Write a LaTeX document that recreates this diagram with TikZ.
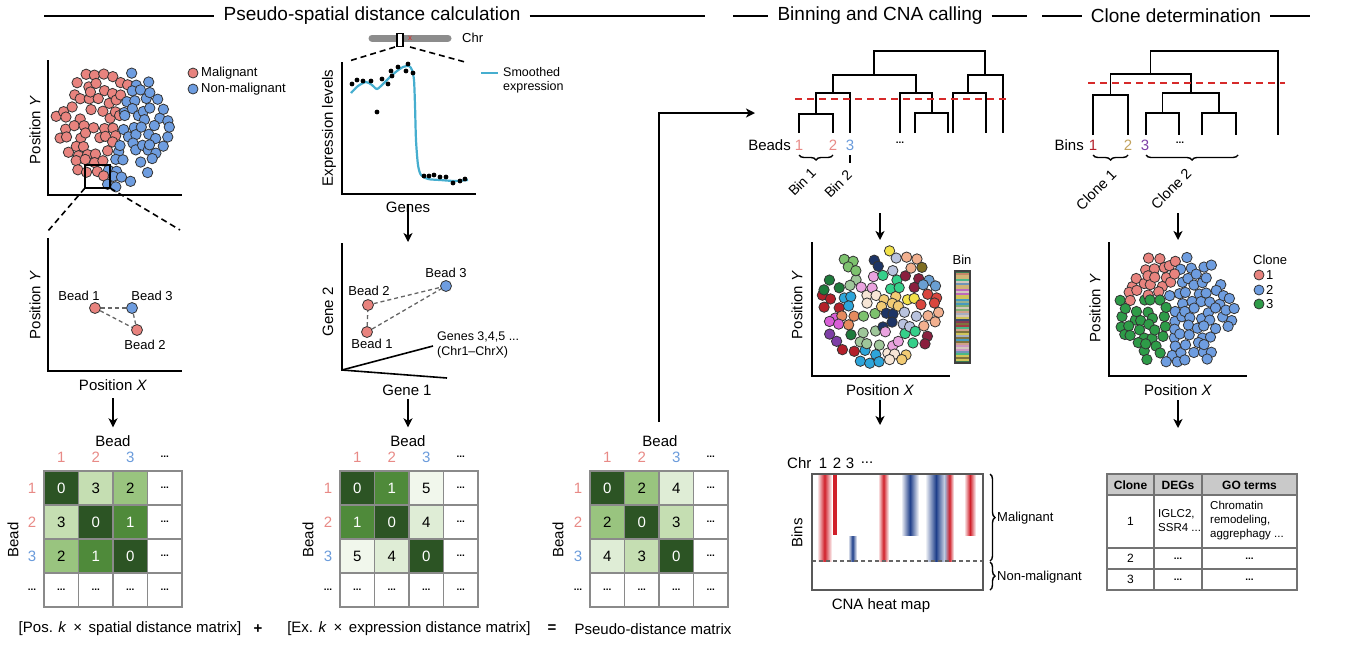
\documentclass[tikz,border=0pt]{standalone}
\usepackage{fontspec}
\setmainfont{Liberation Sans}
\usetikzlibrary{arrows.meta,decorations.pathreplacing}
\newcommand\fs[2]{\fontsize{#1}{#2}\selectfont}
\newcommand\myell{\textbf{\fs{10}{12}...}}
\definecolor{mred}{HTML}{E8837E}
\definecolor{mblue}{HTML}{6E9DE0}
\definecolor{mgreen}{HTML}{2E9B48}
\definecolor{numred}{HTML}{E88A86}
\definecolor{numblue}{HTML}{6A9BDB}
\definecolor{curvec}{HTML}{46AECF}
\definecolor{dashred}{HTML}{D62A2A}
\definecolor{gridgray}{HTML}{8A8A8A}
\definecolor{m0}{HTML}{2C5424}
\definecolor{m1}{HTML}{4F8A3A}
\definecolor{m2}{HTML}{99C47F}
\definecolor{m3}{HTML}{C5DEB2}
\definecolor{m4}{HTML}{DFEDD6}
\definecolor{m5}{HTML}{F1F7EC}
\definecolor{cnared}{HTML}{D0202A}
\definecolor{cnablue}{HTML}{1F3F8A}
\definecolor{tblgray}{HTML}{C9C9C9}
\definecolor{cl1}{HTML}{E8837E}
\definecolor{cl2}{HTML}{6E9DE0}
\definecolor{cl3}{HTML}{2E9B48}
\definecolor{bin0}{HTML}{B3202A}
\definecolor{bin1}{HTML}{F2CB74}
\definecolor{bin2}{HTML}{7E3FA6}
\definecolor{bin3}{HTML}{EAA3DF}
\definecolor{bin4}{HTML}{6A9FD2}
\definecolor{bin5}{HTML}{7DC26E}
\definecolor{bin6}{HTML}{F2B08F}
\definecolor{bin7}{HTML}{2DA5DA}
\definecolor{bin8}{HTML}{F2E24A}
\definecolor{bin9}{HTML}{1E7B3C}
\definecolor{bin10}{HTML}{35D08A}
\definecolor{bin11}{HTML}{D85FD6}
\definecolor{bin12}{HTML}{1D3465}
\definecolor{bin13}{HTML}{7E6E22}
\definecolor{bin14}{HTML}{F7E6D6}
\definecolor{bin15}{HTML}{D9463E}
\definecolor{bin16}{HTML}{9FC79A}
\definecolor{bin17}{HTML}{8A1F3E}
\definecolor{bin18}{HTML}{E58A5E}
\definecolor{bin19}{HTML}{B9C3DE}
\begin{document}
\begin{tikzpicture}[x=1pt,y=-1pt,
  axisl/.style={line width=1.6pt},
  arr/.style={line width=1.6pt,-{Stealth[length=9pt,width=9pt,inset=2.5pt]}},
  tree/.style={line width=1.5pt},
  cut/.style={draw=dashred,line width=2.2pt,dash pattern=on 7pt off 5pt},
  bead/.style={draw=black!80,line width=0.8pt},
  beadn/.style={circle,draw=black!80,line width=0.8pt,minimum size=11pt,inner sep=0pt},
  txt/.style={inner sep=0pt,font=\fs{15}{18}},
  small/.style={inner sep=0pt,font=\fs{13}{15}},
  ttl/.style={inner sep=0pt,font=\fs{19}{22}},
  hdr/.style={line width=1.5pt},
  cell/.style={draw=gridgray,line width=1.5pt,minimum width=34.5pt,minimum height=34pt,inner sep=0pt,font=\fs{15}{18}},
  gline/.style={draw=black!60,line width=1.3pt,dash pattern=on 4pt off 3pt},
  brc/.style={line width=1.4pt,decorate,decoration={brace,amplitude=5pt}},
]
\useasboundingbox (0,0) rectangle (1353,657);

% ---------- headers ----------
\node[ttl] (t1) at (372,16) {Pseudo-spatial distance calculation};
\draw[hdr] (44,16) -- ([xshift=-9pt]t1.west);
\draw[hdr] ([xshift=9pt]t1.east) -- (705,16);
\node[ttl] (t2) at (880,16) {Binning and CNA calling};
\draw[hdr] (733,16) -- ([xshift=-9pt]t2.west);
\draw[hdr] ([xshift=9pt]t2.east) -- (1027,16);
\node[ttl] (t3) at (1176,16) {Clone determination};
\draw[hdr] (1042,16) -- ([xshift=-9pt]t3.west);
\draw[hdr] ([xshift=9pt]t3.east) -- (1310,16);

% ---------- panel 1: spatial scatter (jittered hex grid) ----------
\pgfmathsetseed{3}
\foreach \gx in {-7,...,7}{\foreach \gy in {-8,...,8}{%
  \pgfmathsetmacro\sx{113+\gx*9.8+4.9*mod(abs(\gy),2)+6*(rnd-0.5)}%
  \pgfmathsetmacro\sy{127+\gy*8.6+6*(rnd-0.5)}%
  \pgfmathtruncatemacro\ins{and(((\sx-113)/58)^2+((\sy-127)/60)^2<1, rnd>0.1)}%
  \ifnum\ins=1
  \pgfmathtruncatemacro\cls{(\sx<117-0.25*(\sy-127)+12*(rnd-0.5))?1:2}%
  \filldraw[bead,fill=cl\cls] (\sx,\sy) circle (5.2);
  \fi
}}
\draw[axisl] (48,60) -- (48,195) -- (182,195);
\node[txt,rotate=90] (py1) at (35,130) {Position \textit{Y}};
\draw[line width=1.6pt] (85,165) rectangle (110,188);
\coordinate (zl) at (85,188);
\coordinate (zr) at (110,188);
\coordinate (zl2) at (48,231);
\coordinate (zr2) at (180,230);
\draw[line width=1.6pt,dash pattern=on 6pt off 4pt] (zl) -- (zl2);
\draw[line width=1.6pt,dash pattern=on 6pt off 4pt] (zr) -- (zr2);
\node[beadn,fill=mred,minimum size=10pt] (lgm) at (193,73) {};
\node[small,anchor=west] (lgmt) at (201,73) {Malignant};
\node[beadn,fill=mblue,minimum size=10pt] (lgn) at (193,89) {};
\node[small,anchor=west] (lgnt) at (201,89) {Non-malignant};

% ---------- panel 2: bead positions ----------
\draw[axisl] (48,238) -- (48,371) -- (182,371);
\node[txt,rotate=90] (py2) at (35,305) {Position \textit{Y}};
\node[txt] (px2) at (113,385) {Position \textit{X}};
\node[beadn,fill=mred] (b1) at (95,308) {};
\node[beadn,fill=mblue] (b3) at (132,308) {};
\node[beadn,fill=mred] (b2) at (137,330) {};
\draw[gline] (b1) -- (b3);
\draw[gline] (b1) -- (b2);
\draw[gline] (b3) -- (b2);
\node[small] (b1t) at (79,296) {Bead 1};
\node[small] (b3t) at (152,296) {Bead 3};
\node[small] (b2t) at (145,345) {Bead 2};

% ---------- expression panel ----------
\draw[line width=7pt,color=black!45,line cap=round] (372,38) -- (448,38);
\node[inner sep=0pt,text=dashred,font=\fs{8}{8}] (cen) at (410,38) {x};
\node[draw=black,fill=white,line width=1.3pt,minimum width=6pt,minimum height=13pt,inner sep=0pt] (win) at (400,40) {};
\node[small,anchor=west] (chr) at (462,38) {Chr};
\coordinate (wl) at (395,47);
\coordinate (wr) at (410,47);
\coordinate (wl2) at (349,61);
\coordinate (wr2) at (465,62);
\draw[line width=1.6pt,dash pattern=on 6pt off 4pt] (wl) -- (wl2);
\draw[line width=1.6pt,dash pattern=on 6pt off 4pt] (wr) -- (wr2);
\draw[axisl] (342,62) -- (342,194) -- (476,194);
\draw[curvec,line width=2.2pt,smooth,tension=0.45] plot coordinates {(351,93) (358,86) (366,82) (372,85) (377,89) (383,84) (390,77) (397,71) (403,67) (409,66) (412,70) (414,80) (415,105) (416,140) (418,165) (421,175) (428,179) (440,180) (455,181) (468,180)};
\foreach \dx/\dy in {352/84,357/80,363/81,371/81,377/112,382/79,388/84,391/71,392/76,398/67,406/71,408/64,413/73,424/176,429/176,434/175,440/177,446/177,453/183,460/181,465/179}{
  \fill (\dx,\dy) circle (2.4);
}
\draw[curvec,line width=2.2pt] (481,73) -- (498,73);
\node[small,anchor=west,align=left,font=\fs{12.5}{14}] (smt) at (503,80) {Smoothed\\expression};
\node[txt,rotate=90] (yel) at (329,128) {Expression levels};
\node[txt] (genes) at (408,207) {Genes};

% ---------- gene space ----------
\draw[axisl] (342,243) -- (342,370) -- (447,378);
\draw[axisl] (342,370) -- (433,346);
\node[txt,rotate=90] (g2l) at (328,312) {Gene 2};
\node[txt] (g1l) at (407,390) {Gene 1};
\node[small,anchor=west,align=left,font=\fs{12.5}{15}] (g345) at (437,345) {Genes 3,4,5 ...\\(Chr1--ChrX)};
\node[beadn,fill=mblue] (g3) at (446,286) {};
\node[beadn,fill=mred] (g2) at (368,305) {};
\node[beadn,fill=mred] (g1) at (367,332) {};
\draw[gline] (g2) -- (g3);
\draw[gline] (g1) -- (g3);
\draw[gline] (g1) -- (g2);
\node[small] (g3t) at (446,273) {Bead 3};
\node[small] (g2t) at (369,291) {Bead 2};
\node[small] (g1t) at (372,344) {Bead 1};
\draw[arr] (genes.south) ++(0,-9) coordinate (ga) -- (408,242);

% ---------- matrices ----------
% matrix 1
\node[txt] (ma-head) at (113,441) {Bead};
\node[txt,rotate=90] (ma-bead) at (13,540) {Bead};
\foreach \c/\col/\lab in {1/numred/1,2/numred/2,3/numblue/3,4/black/\myell}{
  \node[txt,text=\col] (ma-c\c) at ({44+(\c-0.5)*34.5},457) {\lab};
  \node[txt,text=\col] (ma-r\c) at (32,{471+(\c-0.5)*34}) {\lab};
}
\foreach \r/\c/\cf/\cv/\ct in {1/1/m0/0/white,1/2/m3/3/black,1/3/m2/2/black,1/4/white/\myell/black,
  2/1/m3/3/black,2/2/m0/0/white,2/3/m1/1/white,2/4/white/\myell/black,
  3/1/m2/2/black,3/2/m1/1/white,3/3/m0/0/white,3/4/white/\myell/black,
  4/1/white/\myell/black,4/2/white/\myell/black,4/3/white/\myell/black,4/4/white/\myell/black}{
  \node[cell,fill=\cf,text=\ct] (ma-\r-\c) at ({44+(\c-0.5)*34.5},{471+(\r-0.5)*34}) {\cv};
}
\draw[arr,shorten >=8pt] (113,398) coordinate (a1s) -- (ma-head);
% matrix 2
\node[txt] (mb-head) at (408,441) {Bead};
\node[txt,rotate=90] (mb-bead) at (308,540) {Bead};
\foreach \c/\col/\lab in {1/numred/1,2/numred/2,3/numblue/3,4/black/\myell}{
  \node[txt,text=\col] (mb-c\c) at ({340+(\c-0.5)*34.5},457) {\lab};
  \node[txt,text=\col] (mb-r\c) at (328,{471+(\c-0.5)*34}) {\lab};
}
\foreach \r/\c/\cf/\cv/\ct in {1/1/m0/0/white,1/2/m1/1/white,1/3/m5/5/black,1/4/white/\myell/black,
  2/1/m1/1/white,2/2/m0/0/white,2/3/m4/4/black,2/4/white/\myell/black,
  3/1/m5/5/black,3/2/m4/4/black,3/3/m0/0/white,3/4/white/\myell/black,
  4/1/white/\myell/black,4/2/white/\myell/black,4/3/white/\myell/black,4/4/white/\myell/black}{
  \node[cell,fill=\cf,text=\ct] (mb-\r-\c) at ({340+(\c-0.5)*34.5},{471+(\r-0.5)*34}) {\cv};
}
\draw[arr,shorten >=8pt] (408,399) coordinate (a2s) -- (mb-head);
% matrix 3
\node[txt] (mc-head) at (660,441) {Bead};
\node[txt,rotate=90] (mc-bead) at (558,540) {Bead};
\foreach \c/\col/\lab in {1/numred/1,2/numred/2,3/numblue/3,4/black/\myell}{
  \node[txt,text=\col] (mc-c\c) at ({590+(\c-0.5)*34.5},457) {\lab};
  \node[txt,text=\col] (mc-r\c) at (578,{471+(\c-0.5)*34}) {\lab};
}
\foreach \r/\c/\cf/\cv/\ct in {1/1/m0/0/white,1/2/m2/2/black,1/3/m4/4/black,1/4/white/\myell/black,
  2/1/m2/2/black,2/2/m0/0/white,2/3/m3/3/black,2/4/white/\myell/black,
  3/1/m4/4/black,3/2/m3/3/black,3/3/m0/0/white,3/4/white/\myell/black,
  4/1/white/\myell/black,4/2/white/\myell/black,4/3/white/\myell/black,4/4/white/\myell/black}{
  \node[cell,fill=\cf,text=\ct] (mc-\r-\c) at ({590+(\c-0.5)*34.5},{471+(\r-0.5)*34}) {\cv};
}
% formula
\node[txt] (f1) at (130,629) {[Pos. \textit{k} \,×\, spatial distance matrix]};
\node[txt] (fplus) at (258,629) {\textbf{+}};
\node[txt] (f2) at (409,629) {[Ex. \textit{k} \,×\, expression distance matrix]};
\node[txt] (feq) at (552,629) {\textbf{=}};
\node[txt] (f3) at (653,629) {Pseudo-distance matrix};

% long arrow
\coordinate (la) at (659,422);
\coordinate (lb) at (755,113);
\draw[arr] (la) |- (lb);

% ---------- binning tree ----------
\draw[tree] (799,133) -- (799,114) -- (833,114) -- (833,133);
\draw[tree] (816,114) -- (816,93) -- (850,93) -- (850,133);
\draw[tree] (915,133) -- (915,113) -- (948,113) -- (948,133);
\draw[tree] (900,133) -- (900,93) -- (932,93) -- (932,113);
\draw[tree] (833,93) -- (833,75) -- (916,75) -- (916,93);
\draw[tree] (953,133) -- (953,93) -- (986,93) -- (986,133);
\draw[tree] (968,93) -- (968,75) -- (1003,75) -- (1003,133);
\draw[tree] (874,75) -- (874,51) -- (985,51) -- (985,75);
\draw[cut] (795,99) -- (1010,99);
\node[txt,anchor=east] (beads) at (791,145) {Beads};
\node[txt,text=numred] (bn1) at (799,145) {1};
\node[txt,text=numred] (bn2) at (833,145) {2};
\node[txt,text=numblue] (bn3) at (850,145) {3};
\node[txt] (bnd) at (900,143) {\myell};
\draw[brc] (833,155) -- (799,155);
\draw[line width=1.4pt] (850,155) -- (850,163);
\node[small,rotate=45,font=\fs{14}{16}] (bin1) at (802,182) {Bin 1};
\node[small,rotate=45,font=\fs{14}{16}] (bin2) at (838,184) {Bin 2};
\draw[arr] (880,213) coordinate (a3s) -- (880,240);

% ---------- bin scatter ----------
\pgfmathsetseed{11}
\foreach \gx in {-7,...,7}{\foreach \gy in {-8,...,8}{%
  \pgfmathsetmacro\sx{880+\gx*10.6+5.3*mod(abs(\gy),2)+6*(rnd-0.5)}%
  \pgfmathsetmacro\sy{306+\gy*9.2+6*(rnd-0.5)}%
  \pgfmathtruncatemacro\ins{and(((\sx-880)/60)^2+((\sy-306)/60)^2<1, rnd>0.12)}%
  \ifnum\ins=1
  \pgfmathtruncatemacro\idx{mod(floor((\sx-800)/20)*7+floor((\sy-238)/18)*11,20)}%
  \filldraw[bead,fill=bin\idx] (\sx,\sy) circle (5.2);
  \fi
}}
\draw[axisl] (812,242) -- (812,376) -- (950,376);
\node[txt,rotate=90] (py3) at (797,305) {Position \textit{Y}};
\node[txt] (px3) at (880,390) {Position \textit{X}};
\pgfmathsetseed{5}
\foreach \k in {0,...,45}{%
  \pgfmathtruncatemacro\idx{floor(20*rnd)}%
  \fill[bin\idx!70!gray] (955,{271+2*\k}) rectangle (970,{273+2*\k});
}
\draw[black!75,line width=1.4pt] (955,271) rectangle (970,363);
\node[small] (binl) at (962,260) {Bin};
\draw[arr] (880,400) coordinate (a4s) -- (880,425);

% ---------- CNA heat map ----------
\shade[left color=white,right color=white,middle color=cnared] (817,474) rectangle (832,561);
\fill[cnared] (833,474) rectangle (837,535);
\shade[left color=white,right color=white,middle color=cnablue] (848,536) rectangle (857,561);
\shade[left color=white,right color=white,middle color=cnared] (878,474) rectangle (889,561);
\shade[left color=white,right color=white,middle color=cnablue] (901,474) rectangle (919,535);
\shade[left color=white,right color=white,middle color=cnablue] (925,474) rectangle (947,561);
\shade[left color=cnablue!40,right color=white,middle color=cnared] (945,474) rectangle (954,561);
\shade[left color=white,right color=white,middle color=cnared] (964,474) rectangle (976,535);
\draw[black!60,line width=1.1pt,dash pattern=on 4pt off 3pt] (812,561) -- (983,561);
\draw[black!65,line width=1.2pt] (812,474) rectangle (983,590);
\node[txt,anchor=west] (chrl) at (787,463) {Chr};
\node[txt] (c1) at (823,463) {1};
\node[txt] (c2) at (837,463) {2};
\node[txt] (c3) at (850,463) {3};
\node[txt] (cd) at (867,463) {...};
\node[txt,rotate=90] (binsl) at (797,533) {Bins};
\node[txt] (cnal) at (881,606) {CNA heat map};
\draw[brc] (990,474) -- (990,561);
\draw[brc] (990,562) -- (990,590);
\node[small,anchor=west] (malt) at (997,518) {Malignant};
\node[small,anchor=west] (nmalt) at (997,577) {Non-malignant};

% ---------- clone tree ----------
\draw[tree] (1093,135) -- (1093,95) -- (1128,95) -- (1128,135);
\draw[tree] (1146,135) -- (1146,113) -- (1179,113) -- (1179,135);
\draw[tree] (1202,135) -- (1202,113) -- (1236,113) -- (1236,135);
\draw[tree] (1162.5,113) -- (1162.5,93) -- (1219,93) -- (1219,113);
\draw[tree] (1110.5,95) -- (1110.5,74) -- (1190.75,74) -- (1190.75,93);
\draw[tree] (1150.6,74) -- (1150.6,51) -- (1278,51) -- (1278,135);
\draw[cut] (1088,83) -- (1285,83);
\node[txt,anchor=east] (binsn) at (1084,145) {Bins};
\node[txt,text=bin0] (cn1) at (1093,145) {1};
\node[txt,text=bin1!80!black] (cn2) at (1128,145) {2};
\node[txt,text=bin2] (cn3) at (1145,145) {3};
\node[txt] (cnd) at (1180,143) {\myell};
\draw[brc] (1128,155) -- (1093,155);
\draw[brc] (1238,155) -- (1146,155);
\node[small,rotate=45,font=\fs{14.5}{16}] (clo1) at (1096,190) {Clone 1};
\node[small,rotate=45,font=\fs{14.5}{16}] (clo2) at (1171,189) {Clone 2};
\draw[arr] (1178,213) coordinate (a5s) -- (1178,240);

% ---------- clone scatter ----------
\pgfmathsetseed{21}
\foreach \gx in {-7,...,7}{\foreach \gy in {-8,...,8}{%
  \pgfmathsetmacro\sx{1177+\gx*9.8+4.9*mod(abs(\gy),2)+6*(rnd-0.5)}%
  \pgfmathsetmacro\sy{310+\gy*8.6+6*(rnd-0.5)}%
  \pgfmathtruncatemacro\ins{and(((\sx-1177)/60)^2+((\sy-310)/60)^2<1, rnd>0.1)}%
  \ifnum\ins=1
  \pgfmathtruncatemacro\cls{(\sx>1170-0.12*(\sy-310)+12*(rnd-0.5))?2:((\sy<298+14*(rnd-0.5))?1:3)}%
  \filldraw[bead,fill=cl\cls] (\sx,\sy) circle (5.2);
  \fi
}}
\draw[axisl] (1109,242) -- (1109,376) -- (1247,376);
\node[txt,rotate=90] (py4) at (1095,308) {Position \textit{Y}};
\node[txt] (px4) at (1178,390) {Position \textit{X}};
\node[small,anchor=west] (clg) at (1253,260) {Clone};
\node[beadn,fill=cl1,minimum size=10pt] (clg1) at (1259,275) {};
\node[beadn,fill=cl2,minimum size=10pt] (clg2) at (1259,290) {};
\node[beadn,fill=cl3,minimum size=10pt] (clg3) at (1259,304) {};
\node[small,anchor=west] (clg1t) at (1266,275) {1};
\node[small,anchor=west] (clg2t) at (1266,290) {2};
\node[small,anchor=west] (clg3t) at (1266,304) {3};
\draw[arr] (1178,400) coordinate (a6s) -- (1178,428);

% ---------- table ----------
\fill[tblgray] (1107,474) rectangle (1297,495);
\draw[black!55,line width=1.2pt] (1107,474) rectangle (1297,590);
\draw[black!55,line width=1.2pt] (1107,495) -- (1297,495);
\draw[black!55,line width=1.2pt] (1107,548) -- (1297,548);
\draw[black!55,line width=1.2pt] (1107,569) -- (1297,569);
\draw[black!55,line width=1.2pt] (1154,474) -- (1154,590);
\draw[black!55,line width=1.2pt] (1202,474) -- (1202,590);
\node[small,font=\bfseries\fs{12}{14}] (th1) at (1130.5,485) {Clone};
\node[small,font=\bfseries\fs{12}{14}] (th2) at (1178,485) {DEGs};
\node[small,font=\bfseries\fs{12}{14}] (th3) at (1249.5,485) {GO terms};
\node[small,font=\fs{12}{14}] (tr1) at (1130.5,521) {1};
\node[small,font=\fs{11.5}{14},anchor=west,align=left] (tr1b) at (1158,521) {IGLC2,\\SSR4 ...};
\node[small,font=\fs{11.5}{14},anchor=west,align=left] (tr1c) at (1210,521) {Chromatin\\remodeling,\\aggrephagy ...};
\node[small,font=\fs{12}{14}] (tr2) at (1130.5,558.5) {2};
\node[small] (tr2b) at (1178,558.5) {\myell};
\node[small] (tr2c) at (1249.5,558.5) {\myell};
\node[small,font=\fs{12}{14}] (tr3) at (1130.5,579.5) {3};
\node[small] (tr3b) at (1178,579.5) {\myell};
\node[small] (tr3c) at (1249.5,579.5) {\myell};
\end{tikzpicture}
\end{document}
